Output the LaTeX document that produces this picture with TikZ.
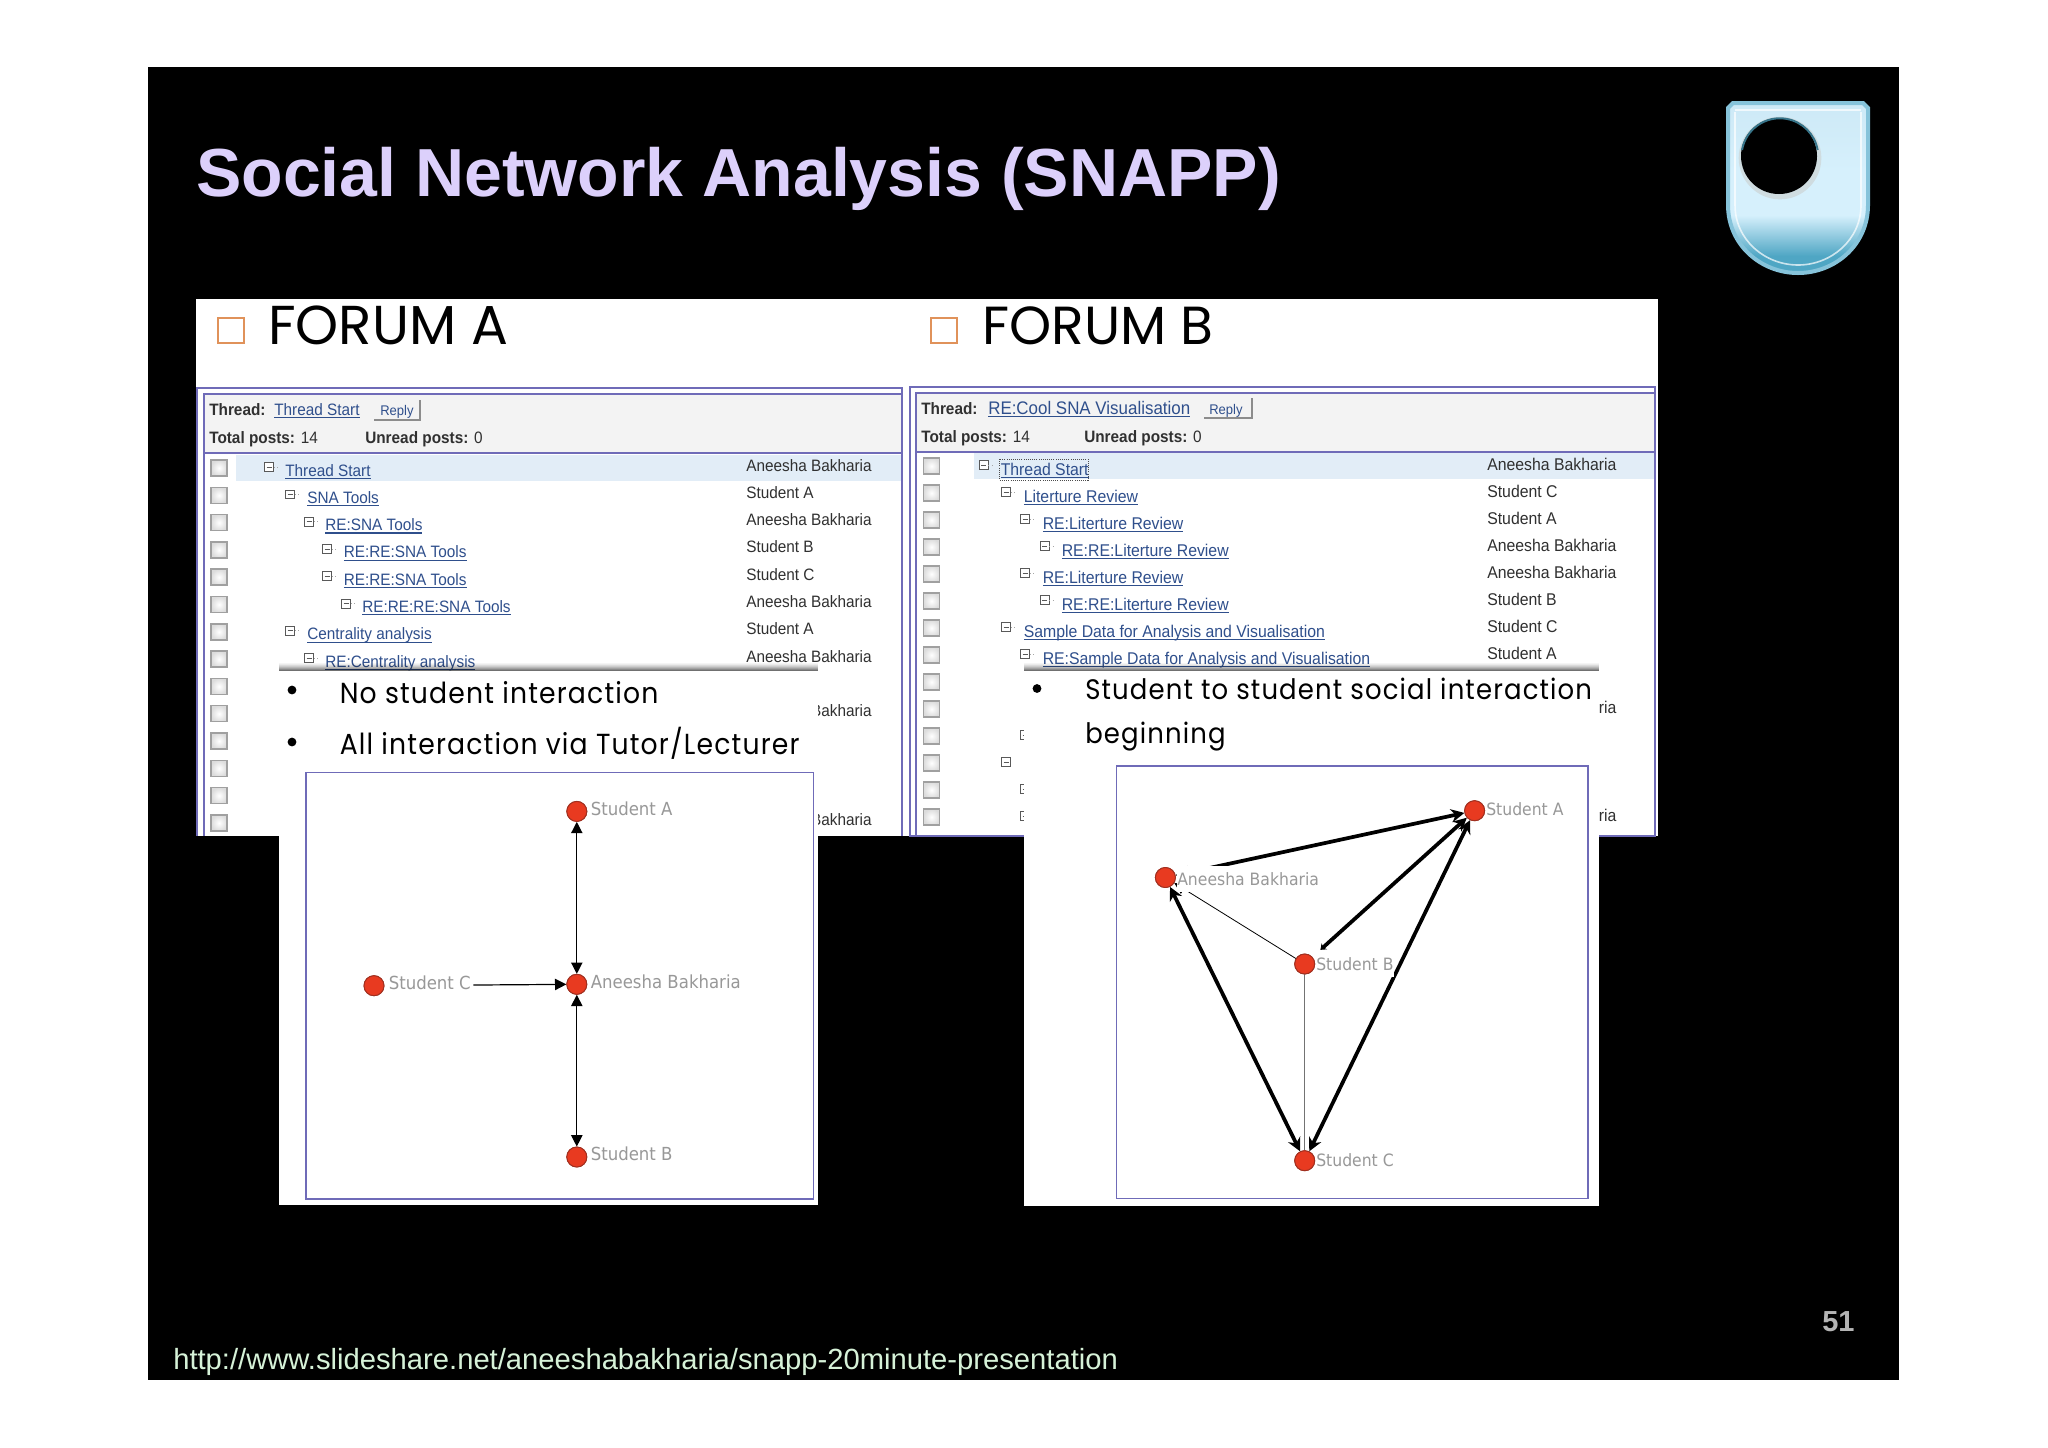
\documentclass[tikz,border=0pt]{standalone}
\usepackage{fontspec}
\usetikzlibrary{arrows.meta}
\setmainfont{Liberation Sans}
\newfontfamily\gothic{Poppins}
\newfontfamily\gothicn[FakeStretch=0.92,LetterSpace=4]{Poppins}
\newfontfamily\tbl[FakeStretch=0.93]{Liberation Sans}
\newfontfamily\lbl[FakeStretch=0.92]{DejaVu Sans}
\newcommand\pxfont[1]{\fontsize{\dimexpr#1pt*3/4\relax}{\dimexpr#1pt*9/10\relax}\selectfont}
\newcommand\lk[1]{\setbox0\hbox{#1}\rlap{\rule[-2.2pt]{\wd0}{0.85pt}}\box0}
\definecolor{titlec}{HTML}{DCD0FB}
\definecolor{urlc}{HTML}{D6F2D8}
\definecolor{numc}{HTML}{B4B4B4}
\definecolor{boxo}{HTML}{E0925A}
\definecolor{frameb}{HTML}{6F6BB8}
\definecolor{headg}{HTML}{F3F3F3}
\definecolor{rowhl}{HTML}{E2EDF7}
\definecolor{linkc}{HTML}{2F4F8C}
\definecolor{txtc}{HTML}{303030}
\definecolor{chk}{HTML}{A0A0A0}
\definecolor{chki}{HTML}{DCDCDC}
\definecolor{nodered}{HTML}{E83A20}
\definecolor{nodeedge}{HTML}{A03020}
\definecolor{lblc}{HTML}{989898}
\definecolor{rim}{HTML}{86C3DA}
\definecolor{shA}{HTML}{CDE9F6}
\definecolor{shB}{HTML}{D6F0FC}
\definecolor{shC}{HTML}{4FA6C4}
\pgfdeclareverticalshading{logoshade}{100bp}{color(0bp)=(shC); color(30bp)=(shC); color(42bp)=(shB); color(55bp)=(shB); color(75bp)=(shA); color(100bp)=(shA)}
\tikzset{
  x=0.75pt,y=-0.75pt,
  txt/.style={anchor=base west,inner sep=0pt,text=txtc,font=\tbl\pxfont{16.5}},
  txtB/.style={txt,font=\tbl\pxfont{17}},
  txtb/.style={txt,font=\tbl\bfseries\pxfont{16.5}},
  lnk/.style={anchor=base west,inner sep=0pt,text=linkc,font=\tbl\pxfont{16.5}},
  lnkB/.style={lnk,font=\tbl\pxfont{17}},
  chkbox/.style={draw=chk,line width=1.1pt,inner color=white,outer color=chki,minimum size=12pt,inner sep=0pt},
  minusbox/.style={draw=black!65,fill=white,line width=.6pt,minimum size=6.6pt,inner sep=0pt},
  frm/.style={draw=frameb,line width=1.3pt},
  sna/.style={circle,fill=nodered,draw=nodeedge,line width=.7pt,minimum size=15pt,inner sep=0pt},
  snl/.style={anchor=west,inner xsep=0pt,inner ysep=0pt,fill=white,text=lblc,font=\lbl\pxfont{18},text height=10pt,text depth=5pt},
  thin edge/.style={draw=black,line width=.9pt,-{Triangle[length=8.5pt,width=8.5pt]}},
  both edge/.style={draw=black,line width=.9pt,{Triangle[length=8.5pt,width=8.5pt]}-{Triangle[length=8.5pt,width=8.5pt]}},
  heavy edge/.style={draw=black,line width=2.8pt,{Stealth[length=10pt,width=10pt]}-{Stealth[length=10pt,width=10pt]}},
  bult/.style={anchor=base west,inner sep=0pt,text=black,font=\gothicn\pxfont{29}},
  dott/.style={circle,fill=black,minimum size=6.6pt,inner sep=0pt},
}
\begin{document}
\begin{tikzpicture}
\useasboundingbox (0,0) rectangle (2048,1447);
\fill[white] (0,0) rectangle (2048,1447);
\fill[black] (148,67) rectangle (1899,1380);

% title, footer, number
\node[anchor=base west,inner sep=0pt,text=titlec,font=\bfseries\pxfont{68}] (title) at (196,196) {Social Network Analysis (SNAPP)};
\node[anchor=base west,inner sep=0pt,text=urlc,font=\pxfont{29.2}] (url) at (173,1369) {http://www.slideshare.net/aneeshabakharia/snapp-20minute-presentation};
\node[anchor=base west,inner sep=0pt,text=numc,font=\bfseries\pxfont{29}] (num) at (1822,1331) {51};

% logo
\path[draw=rim,line width=3pt,shading=logoshade]
  (1733,103) -- (1863,103) to[out=0,in=90,looseness=0] (1868,108) -- (1868,205)
  .. controls (1868,245) and (1835,273) .. (1798,273)
  .. controls (1761,273) and (1728,245) .. (1728,205) -- (1728,108) to[out=90,in=180,looseness=0] (1733,103) -- cycle;
\draw[white,opacity=.7,line width=1.2pt] (1735,112) -- (1735,205) .. controls (1735,240) and (1765,265) .. (1798,265) .. controls (1831,265) and (1861,240) .. (1861,205) -- (1861,112);
\draw[white,opacity=.7,line width=1.2pt] (1735,110) -- (1861,110);
\fill[rim!70!black!30!white] (1780,158) circle (31pt);
\fill[black] (1779,156) circle (28.5pt);
\draw[color=black!30!shC,line width=1.5pt] (1742,150) arc[start angle=190,end angle=350,radius=28.8pt,y radius=-28.8pt];

% forum panel
\fill[white] (196,299) rectangle (1658,836);
\draw[boxo,line width=2.2pt] (218,318) rectangle (244,343);
\draw[boxo,line width=2.2pt] (931,318) rectangle (957,343);
\node[anchor=base west,inner sep=0pt,text=black,font=\gothic\pxfont{54.8}] (fa) at (268,344) {FORUM A};
\node[anchor=base west,inner sep=0pt,text=black,font=\gothic\pxfont{53.6}] (fb) at (982,344) {FORUM B};

% ---- table A
\fill[headg] (204,394) rectangle (902,453);
\fill[rowhl] (236,455) rectangle (902,481);
\draw[frm] (197,836) -- (197,388) -- (902,388) -- (902,836);
\draw[frm] (204,836) -- (204,394) -- (902,394);
\draw[frm] (204,453) -- (902,453);
\node[txtb] (ath) at (209,415) {Thread:};
\node[lnk] (atl) at (274,415) {\lk{Thread Start}};
\node[anchor=base west,inner sep=0pt,text=linkc,font=\tbl\pxfont{14}] (are) at (380,415) {Reply};
\draw[black!45,line width=.8pt] (374,420) -- (420,420) -- (420,400);
\node[txtb] (ato) at (209,443) {Total posts: \mdseries 14};
\node[txtb] (aun) at (365,443) {Unread posts: \mdseries 0};
\foreach \i/\ix/\lx/\t/\n in {0/269/285/Thread Start/Aneesha Bakharia,1/290/307/SNA Tools/Student A,2/309/325/RE:SNA Tools/Aneesha Bakharia,3/327/343.5/RE:RE:SNA Tools/Student B,4/327/343.5/RE:RE:SNA Tools/Student C,5/346/362/RE:RE:RE:SNA Tools/Aneesha Bakharia,6/290/307/Centrality analysis/Student A,7/309/325/RE:Centrality analysis/Aneesha Bakharia}{
  \node[minusbox] (am\i) at (\ix,467+27.3*\i) {};
  \draw[black!65,line width=.6pt] (\ix-2.5,467+27.3*\i) -- (\ix+2.5,467+27.3*\i);
  \draw[black!35,dotted,line width=.6pt] (am\i.east) -- ++(6,0);
  \node[lnk] (al\i) at (\lx,476+27.3*\i) {\lk{\t}};
  \node[txt] (an\i) at (746,471+27.3*\i) {\n};
}
\foreach \i in {0,...,13}{\node[chkbox] (ac\i) at (219,468+27.3*\i) {};}
\foreach \i in {9,13}{\node[txt] (ax\i) at (746,471+27.3*\i) {Aneesha Bakharia};}

% ---- table B
\fill[headg] (916,393) rectangle (1655,452);
\fill[rowhl] (974,453) rectangle (1655,479);
\draw[frm] (910,836) -- (910,387) -- (1655,387) -- (1655,836) -- cycle;
\draw[frm] (916,836) -- (916,393) -- (1655,393);
\draw[frm] (916,452) -- (1655,452);
\node[txtb] (bth) at (921,414) {Thread:};
\node[lnk,font=\tbl\pxfont{18.2}] (btl) at (988,414) {\lk{RE:Cool SNA Visualisation}};
\node[anchor=base west,inner sep=0pt,text=linkc,font=\tbl\pxfont{14}] (bre) at (1209,414) {Reply};
\draw[black!45,line width=.8pt] (1204,418) -- (1252,418) -- (1252,398);
\node[txtb] (bto) at (921,442) {Total posts: \mdseries 14};
\node[txtb] (bun) at (1084,442) {Unread posts: \mdseries 0};
\foreach \i/\ix/\lx/\t/\n in {0/983.5/1000.5/Thread Start/Aneesha Bakharia,1/1006/1023.5/Literture Review/Student C,2/1025/1042.5/RE:Literture Review/Student A,3/1044.5/1061.5/RE:RE:Literture Review/Aneesha Bakharia,4/1025/1042.5/RE:Literture Review/Aneesha Bakharia,5/1044.5/1061.5/RE:RE:Literture Review/Student B,6/1006/1023.5/Sample Data for Analysis and Visualisation/Student C,7/1025/1042.5/RE:Sample Data for Analysis and Visualisation/Student A}{
  \node[minusbox] (bm\i) at (\ix,465+27*\i) {};
  \draw[black!65,line width=.6pt] (\ix-2.5,465+27*\i) -- (\ix+2.5,465+27*\i);
  \draw[black!35,dotted,line width=.6pt] (bm\i.east) -- ++(6,0);
  \node[lnkB] (bl\i) at (\lx,475+27*\i) {\lk{\t}};
  \node[txtB] (bn\i) at (1487,470+27*\i) {\n};
}
\draw[black!70,densely dotted,line width=.6pt] (999.5,459) rectangle (1088,480);
\foreach \i in {0,...,13}{\node[chkbox] (bc\i) at (931.5,466+27*\i) {};}
\foreach \i in {9,13}{\node[txtB] (bx\i) at (1487,470+27*\i) {Aneesha Bakharia};}
\foreach \i/\ix in {10/1025,11/1006,12/1025,13/1025}{
  \node[minusbox] (bh\i) at (\ix,465+27*\i) {};
  \draw[black!65,line width=.6pt] (\ix-2.5,465+27*\i) -- (\ix+2.5,465+27*\i);
}

% ---- popup shadows
\foreach \k/\o in {0/.04,1/.08,2/.14,3/.2,4/.28,5/.36,6/.46,7/.56}{
  \fill[black,opacity=\o] (279,663+\k) rectangle (817.5,664+\k);
  \fill[black,opacity=\o] (1024,663+\k) rectangle (1598.5,664+\k);
}

% ---- popup A
\fill[white] (279,671) rectangle (817.5,1205);
\draw[frm] (306,772.5) rectangle (813.5,1199);
\node[dott] (pa1) at (292,690) {};
\node[dott] (pa2) at (292,742) {};
\node[bult] (pat1) at (339.5,703.5) {No student interaction};
\node[bult] (pat2) at (339.5,754.5) {All interaction via Tutor/Lecturer};
\node[sna] (aA) at (576.8,811.4) {};
\node[sna] (aN) at (576.8,984.3) {};
\node[sna] (aC) at (374,985.7) {};
\node[sna] (aB) at (576.8,1157) {};
\draw[both edge] (aA) -- (aN);
\draw[both edge] (aB) -- (aN);
\draw[thin edge,shorten <=66.75pt] (aC) -- (aN);
\node[snl] (laA) at (590.5,812) {Student A};
\node[snl] (laN) at (590.5,985) {Aneesha Bakharia};
\node[snl] (laC) at (388.5,986) {Student C};
\node[snl] (laB) at (590.5,1157) {Student B};

% ---- popup B
\fill[white] (1024,671) rectangle (1598.5,1206);
\draw[frm] (1116.5,766) rectangle (1588,1198.5);
\node[dott] (pb1) at (1037,688.5) {};
\node[bult,font=\gothicn\pxfont{28.2}] (pbt1) at (1085,699) {Student to student social interaction};
\node[bult,font=\gothicn\pxfont{28.2}] (pbt2) at (1085,743) {beginning};
\node[sna] (bA) at (1474.6,810.7) {};
\node[sna] (bN) at (1165.4,877.5) {};
\node[sna] (bB) at (1304.7,964) {};
\node[sna] (bC) at (1304.7,1160.7) {};
\draw[heavy edge] (bN) -- (bA);
\draw[heavy edge,{Stealth[length=4pt,width=6pt]}-{Stealth[length=10pt,width=10pt]},shorten <=8pt] (bB) -- (bA);
\draw[heavy edge] (bC) -- (bA);
\draw[heavy edge] (bC) -- (bN);
\draw[thin edge,line width=.6pt] (bB) -- (bN);
\draw[draw=black!55,line width=1pt] (bB) -- (bC);
\node[snl,font=\lbl\pxfont{17}] (lbA) at (1486,812.5) {Student A};
\node[snl,font=\lbl\pxfont{17},text height=14.25pt] (lbN) at (1177,879) {Aneesha Bakharia};
\node[snl,font=\lbl\pxfont{17}] (lbB) at (1316,967) {Student B};
\node[snl,font=\lbl\pxfont{17}] (lbC) at (1316,1163.5) {Student C};
\foreach \n in {aA,aN,aC,aB,bA,bN,bB,bC}{\node[sna] (top\n) at (\n) {};}
\end{tikzpicture}
\end{document}
